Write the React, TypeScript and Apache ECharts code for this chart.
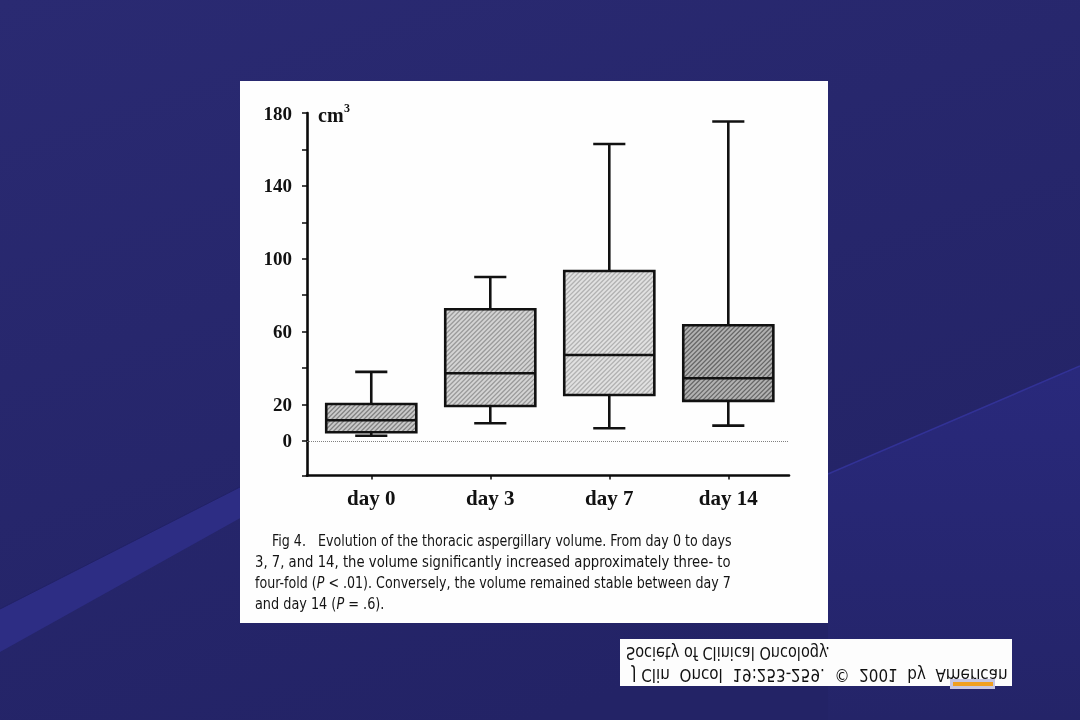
import React, { useEffect, useRef } from "react";
import * as echarts from "echarts";

// ---- data ----
const categories = ["day 0", "day 3", "day 7", "day 14"];
const whiskerLow = [2.9, 9.7, 7.0, 8.4];
const quartile1 = [4.8, 19.2, 25.2, 22.0];
const medians = [11.4, 37.2, 47.2, 34.4];
const quartile3 = [20.3, 72.3, 93.3, 63.5];
const whiskerHigh = [37.9, 90.0, 163.0, 175.3];
const yTickValues = [-19, 0, 20, 40, 60, 80, 100, 120, 140, 160, 180];
const yLabelValues = [0, 20, 60, 100, 140, 180];
const xTickValues = [0, 1, 2, 3];

const captionLines = [
  "Fig 4.   Evolution of the thoracic aspergillary volume. From day 0 to days",
  "3, 7, and 14, the volume significantly increased approximately three- to",
  "four-fold ({i|P} < .01). Conversely, the volume remained stable between day 7",
  "and day 14 ({i|P} = .6).",
];
const creditLines = [
  "J Clin  Oncol  19:253-259.  \u00a9  2001  by  American",
  "Society of Clinical Oncology.",
];

// ---- styles ----
const boxFills = ["#cacaca", "#d4d4d4", "#e1e1e1", "#b2b2b2"];
const hatchColors = ["#828282", "#9a9a9a", "#b2b2b2", "#676767"];
const BOX_W = 0.757;
const CAP_W = 0.27;
const SERIF = "'Liberation Serif', 'Times New Roman', serif";
const SANS = "'DejaVu Sans Condensed', 'DejaVu Sans', sans-serif";

function measure(text: string, font: string): number {
  const ctx = document.createElement("canvas").getContext("2d");
  if (!ctx) return text.length * 7;
  ctx.font = font;
  return ctx.measureText(text.replace(/\{i\|([^}]*)\}/g, "$1")).width;
}

export default function App() {
  const ref = useRef<HTMLDivElement>(null);

  useEffect(() => {
    if (!ref.current) return;
    const chart = echarts.init(ref.current, null, { renderer: "svg" });

    const data = categories.map((_, i) => [
      i,
      whiskerLow[i],
      quartile1[i],
      medians[i],
      quartile3[i],
      whiskerHigh[i],
    ]);

    // caption layout (justified lines via horizontal scaling)
    const capSize = 16;
    const capFont = `${capSize}px ${SANS}`;
    const capTargets = [
      { x: 272, w: 460 },
      { x: 255, w: 476 },
      { x: 255, w: 476 },
      { x: 255, w: 0 },
    ];
    const scales = captionLines.map((t, i) =>
      capTargets[i].w ? capTargets[i].w / measure(t, capFont) : 0
    );
    const avgScale = (scales[0] + scales[1] + scales[2]) / 3;
    const captionEls = captionLines.map((t, i) => ({
      type: "text",
      x: capTargets[i].x,
      y: 541 + i * 21,
      scaleX: scales[i] || avgScale,
      z: 5,
      style: {
        text: t,
        fontSize: capSize,
        fontFamily: SANS,
        fill: "#141414",
        align: "left",
        verticalAlign: "middle",
        rich: {
          i: {
            fontSize: capSize,
            fontFamily: SANS,
            fontStyle: "italic",
            fill: "#141414",
          },
        },
      },
    }));

    const credFont = `17px ${SANS}`;
    const credTargets = [
      { x: 632, y: 675, w: 376 },
      { x: 626, y: 653, w: 204 },
    ];
    const creditEls = creditLines.map((t, i) => ({
      type: "text",
      x: credTargets[i].x,
      y: credTargets[i].y,
      scaleX: credTargets[i].w / measure(t, credFont),
      scaleY: -1,
      z: 5,
      style: {
        text: t,
        fontSize: 17,
        fontFamily: SANS,
        fill: "#111111",
        align: "left",
        verticalAlign: "middle",
      },
    }));

    const option: any = {
      animation: false,
      graphic: [
        {
          type: "rect",
          z: -20,
          shape: { x: 0, y: 0, width: 1080, height: 720 },
          style: {
            fill: new echarts.graphic.LinearGradient(0, 0, 0.5, 1, [
              { offset: 0, color: "#2a2a72" },
              { offset: 1, color: "#232366" },
            ]),
          },
        },
        {
          type: "polygon",
          z: -19,
          shape: { points: [[0, 609], [828, 188], [828, 190], [0, 652]] },
          style: { fill: "#2d2d84" },
        },
        {
          type: "polygon",
          z: -19,
          shape: { points: [[828, 474], [1080, 366], [1080, 720], [828, 720]] },
          style: {
            fill: new echarts.graphic.LinearGradient(0, 0, 0, 1, [
              { offset: 0, color: "#29297c" },
              { offset: 1, color: "#242468" },
            ]),
          },
        },
        {
          type: "line",
          z: -18,
          shape: { x1: 828, y1: 474, x2: 1080, y2: 366 },
          style: { stroke: "#323296", lineWidth: 1.5 },
        },
        {
          type: "line",
          z: -18,
          shape: { x1: 0, y1: 609, x2: 240, y2: 487 },
          style: { stroke: "#222266", lineWidth: 1 },
        },
        {
          type: "rect",
          z: -10,
          shape: { x: 240, y: 81, width: 588, height: 542 },
          style: { fill: "#fefefe" },
        },
        {
          type: "text",
          x: 318,
          y: 115,
          z: 5,
          style: {
            text: "cm",
            fontSize: 20,
            fontWeight: "bold",
            fontFamily: SERIF,
            fill: "#111",
            align: "left",
            verticalAlign: "middle",
          },
        },
        {
          type: "text",
          x: 344,
          y: 108,
          z: 5,
          style: {
            text: "3",
            fontSize: 12,
            fontWeight: "bold",
            fontFamily: SERIF,
            fill: "#111",
            align: "left",
            verticalAlign: "middle",
          },
        },
        ...captionEls,
        {
          type: "rect",
          z: -5,
          shape: { x: 620, y: 639, width: 392, height: 47 },
          style: { fill: "#fdfdfd" },
        },
        ...creditEls,
        {
          type: "rect",
          z: 6,
          shape: { x: 950, y: 679, width: 45, height: 10 },
          style: { fill: "#c6c6e2" },
        },
        {
          type: "rect",
          z: 7,
          shape: { x: 953, y: 682, width: 40, height: 4 },
          style: { fill: "#f0a020" },
        },
      ],
      grid: { left: 307, right: 291, top: 113, bottom: 244.4 },
      xAxis: {
        type: "value",
        min: -0.54,
        max: 3.51,
        splitLine: { show: false },
        axisLine: { show: true, onZero: false, lineStyle: { color: "#0a0a0a", width: 2.6 } },
        axisTick: {
          show: true,
          customValues: xTickValues,
          length: 4,
          lineStyle: { color: "#0a0a0a", width: 1.5 },
        },
        axisLabel: {
          customValues: xTickValues,
          formatter: (v: number) => categories[Math.round(v)] ?? "",
          fontFamily: SERIF,
          fontWeight: "bold",
          fontSize: 21,
          color: "#111",
          margin: 12,
        },
      },
      yAxis: {
        type: "value",
        min: -19,
        max: 180,
        splitLine: { show: false },
        axisLine: { show: true, onZero: false, lineStyle: { color: "#0a0a0a", width: 2.6 } },
        axisTick: {
          show: true,
          customValues: yTickValues,
          length: 5,
          lineStyle: { color: "#0a0a0a", width: 1.5 },
        },
        axisLabel: {
          customValues: yLabelValues,
          fontFamily: SERIF,
          fontWeight: "bold",
          fontSize: 19,
          color: "#111",
          margin: 15,
        },
      },
      series: [
        {
          type: "custom",
          data,
          encode: { x: 0, y: [1, 2, 3, 4, 5] },
          z: 4,
          renderItem: (params: any, api: any) => {
            const i = params.dataIndex;
            const xv = api.value(0);
            const lo = api.coord([xv, api.value(1)]);
            const q1 = api.coord([xv, api.value(2)]);
            const md = api.coord([xv, api.value(3)]);
            const q3 = api.coord([xv, api.value(4)]);
            const hi = api.coord([xv, api.value(5)]);
            const bw = api.size([BOX_W, 0])[0];
            const cw = api.size([CAP_W, 0])[0];
            const cx = q1[0];
            const x0 = cx - bw / 2;
            const x1 = cx + bw / 2;
            const yTop = q3[1];
            const yBot = q1[1];
            const hatch: any[] = [];
            const step = 4.6;
            for (let c = x0 + yTop + step / 2; c < x1 + yBot; c += step) {
              const xa = Math.max(x0, c - yBot);
              const xb = Math.min(x1, c - yTop);
              if (xb > xa) {
                hatch.push({
                  type: "line",
                  shape: { x1: xa, y1: c - xa, x2: xb, y2: c - xb },
                  style: { stroke: hatchColors[i], lineWidth: 1.3 },
                });
              }
            }
            const blk = "#111";
            const lw = 2.6;
            return {
              type: "group",
              children: [
                {
                  type: "rect",
                  shape: { x: x0, y: yTop, width: bw, height: yBot - yTop },
                  style: { fill: boxFills[i] },
                },
                ...hatch,
                {
                  type: "line",
                  shape: { x1: cx, y1: hi[1], x2: cx, y2: yTop },
                  style: { stroke: blk, lineWidth: lw },
                },
                {
                  type: "line",
                  shape: { x1: cx, y1: yBot, x2: cx, y2: lo[1] },
                  style: { stroke: blk, lineWidth: lw },
                },
                {
                  type: "line",
                  shape: { x1: cx - cw / 2, y1: hi[1], x2: cx + cw / 2, y2: hi[1] },
                  style: { stroke: blk, lineWidth: lw },
                },
                {
                  type: "line",
                  shape: { x1: cx - cw / 2, y1: lo[1], x2: cx + cw / 2, y2: lo[1] },
                  style: { stroke: blk, lineWidth: lw },
                },
                {
                  type: "rect",
                  shape: { x: x0, y: yTop, width: bw, height: yBot - yTop },
                  style: { fill: "none", stroke: blk, lineWidth: lw },
                },
                {
                  type: "line",
                  shape: { x1: x0, y1: md[1], x2: x1, y2: md[1] },
                  style: { stroke: blk, lineWidth: lw },
                },
              ],
            };
          },
          markLine: {
            silent: true,
            symbol: "none",
            label: { show: false },
            lineStyle: { type: "dotted", color: "#808080", width: 1 },
            data: [{ yAxis: 0 }],
          },
        },
      ],
    };

    chart.setOption(option);
    return () => chart.dispose();
  }, []);

  return (
    <div
      ref={ref}
      style={{ position: "fixed", left: 0, top: 0, width: 1080, height: 720 }}
    />
  );
}
